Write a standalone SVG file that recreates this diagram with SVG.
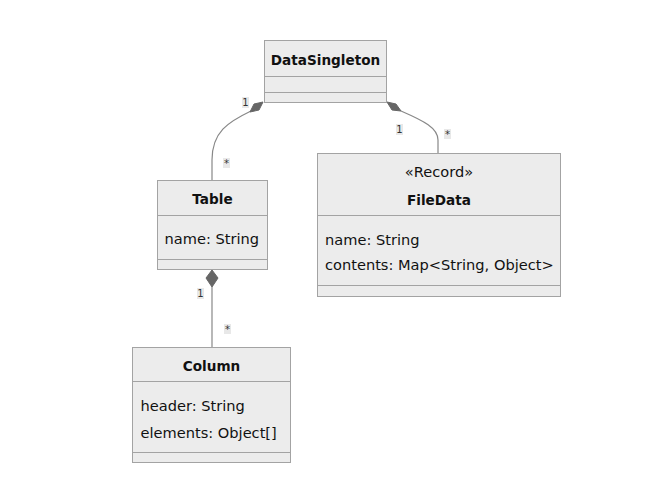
<svg xmlns="http://www.w3.org/2000/svg" width="647" height="490" viewBox="0 0 647 490">
<style>
.box{fill:#ececec;stroke:#a3a3a3;stroke-width:1}
.div{stroke:#a3a3a3;stroke-width:1}
.t{font-family:"DejaVu Sans","Liberation Sans",sans-serif;font-size:14.6px;fill:#111}
.b{font-weight:bold;text-anchor:middle;font-size:13.6px}
.c{text-anchor:middle}
.ln{fill:none;stroke:#888;stroke-width:1.2}
.dm{fill:#666;stroke:#666}
.lb{font-family:"DejaVu Sans","Liberation Sans",sans-serif;font-size:10px;fill:#333;text-anchor:middle}
.lbg{fill:#e8e8e8}
</style>
<rect width="647" height="490" fill="#fff"/>
<g id="connectors">
<path class="ln" d="M251,111 C228,122 212,132 212,160 L212,180"/>
<polygon class="dm" points="263,102 259,110 250,112 254,104"/>
<path class="ln" d="M401,111 C424,121 438,128 438,140 L438,153"/>
<polygon class="dm" points="387,102 396,104 401,111 392,110"/>
<path class="ln" d="M212,287 L212,347"/>
<polygon class="dm" points="212,270 218,278 212,287 206,278"/>
<rect class="lbg" x="242" y="97" width="7" height="11"/><text class="lb" x="245.5" y="106">1</text>
<rect class="lbg" x="223" y="158" width="7" height="10"/><text class="lb" x="226.5" y="167">*</text>
<rect class="lbg" x="396" y="124" width="7" height="11"/><text class="lb" x="399.5" y="133">1</text>
<rect class="lbg" x="444" y="129" width="7" height="10"/><text class="lb" x="447.5" y="138">*</text>
<rect class="lbg" x="197" y="288" width="7" height="11"/><text class="lb" x="200.5" y="297">1</text>
<rect class="lbg" x="224" y="324" width="7" height="10"/><text class="lb" x="227.5" y="333">*</text>
</g>
<g id="DataSingleton">
<rect class="box" x="264.5" y="40.5" width="122" height="62"/>
<line class="div" x1="264.5" y1="76.5" x2="386.5" y2="76.5"/>
<line class="div" x1="264.5" y1="92.5" x2="386.5" y2="92.5"/>
<text class="t b" x="325.5" y="65">DataSingleton</text>
</g>
<g id="Table">
<rect class="box" x="157.5" y="180.5" width="110" height="89"/>
<line class="div" x1="157.5" y1="215.5" x2="267.5" y2="215.5"/>
<line class="div" x1="157.5" y1="259.5" x2="267.5" y2="259.5"/>
<text class="t b" x="212.5" y="204">Table</text>
<text class="t" x="164.5" y="243.5">name: String</text>
</g>
<g id="FileData">
<rect class="box" x="317.5" y="153.5" width="243" height="143"/>
<line class="div" x1="317.5" y1="215.5" x2="560.5" y2="215.5"/>
<line class="div" x1="317.5" y1="285.5" x2="560.5" y2="285.5"/>
<text class="t c" x="439" y="177">«Record»</text>
<text class="t b" x="439" y="204.5">FileData</text>
<text class="t" x="325" y="245">name: String</text>
<text class="t" x="325" y="269.5">contents: Map&lt;String, Object&gt;</text>
</g>
<g id="Column">
<rect class="box" x="132.5" y="347.5" width="158" height="115"/>
<line class="div" x1="132.5" y1="381.5" x2="290.5" y2="381.5"/>
<line class="div" x1="132.5" y1="452.5" x2="290.5" y2="452.5"/>
<text class="t b" x="211.5" y="370.5">Column</text>
<text class="t" x="140.5" y="410.5">header: String</text>
<text class="t" x="140.5" y="437.5">elements: Object[]</text>
</g>
</svg>
